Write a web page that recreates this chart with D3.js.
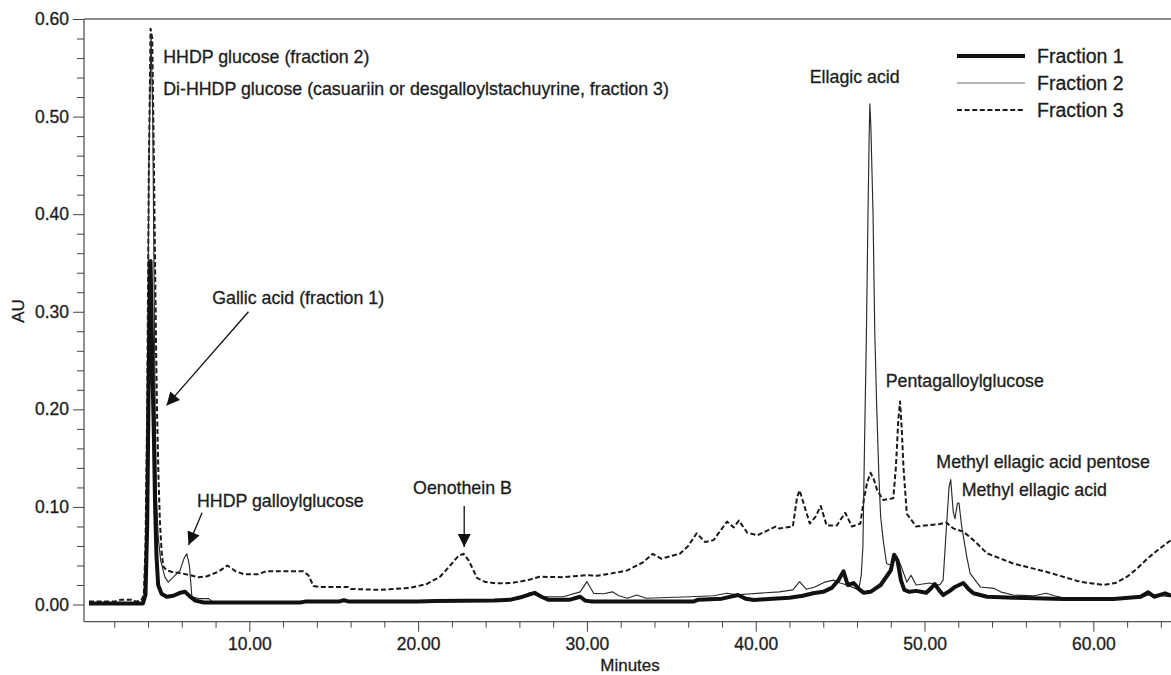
<!DOCTYPE html>
<html>
<head>
<meta charset="utf-8">
<script src="https://cdn.jsdelivr.net/npm/d3@7"></script>
<style>
  html, body { margin: 0; padding: 0; background: #fff; }
  svg { display: block; font-family: "Liberation Sans", Arial, Helvetica, sans-serif; }
  svg text { stroke: #1c1c1c; stroke-width: 0.3px; }
</style>
</head>
<body>
<svg id="chart" width="1171" height="675"></svg>
<script>
// ---------- DATA ----------
const seriesNames = ["Fraction 1", "Fraction 2", "Fraction 3"];

const fraction1Minutes = [0.5,3.7,3.85,3.95,4.05,4.15,4.25,4.35,4.42,4.5,4.6,4.8,5.1,5.5,5.9,6.2,6.5,6.8,7.3,10,13,13.3,15.3,15.6,15.9,20,21,24.5,25.5,26.2,26.9,27.3,27.7,29.0,29.6,29.9,30.3,36.3,36.6,38.0,38.95,39.4,39.9,41.0,42.0,42.8,43.4,44.0,44.5,44.9,45.2,45.45,45.8,46.1,46.4,46.8,47.4,47.8,48.0,48.2,48.4,48.6,48.8,49.1,49.5,50.1,50.4,50.6,50.85,51.1,51.5,51.8,52.3,52.6,52.9,53.7,55.3,58.2,61.2,62.8,63.25,63.6,64.25,64.6];
const fraction1AU = [0.001,0.001,0.01,0.08,0.25,0.352,0.25,0.17,0.10,0.05,0.02,0.011,0.008,0.009,0.012,0.013,0.008,0.004,0.002,0.002,0.002,0.003,0.003,0.0045,0.003,0.003,0.0035,0.004,0.005,0.008,0.012,0.008,0.005,0.005,0.008,0.004,0.003,0.003,0.005,0.006,0.0097,0.006,0.0046,0.006,0.007,0.009,0.0115,0.013,0.017,0.025,0.034,0.02,0.022,0.016,0.012,0.013,0.02,0.03,0.035,0.051,0.045,0.025,0.015,0.013,0.014,0.012,0.017,0.021,0.015,0.0097,0.014,0.018,0.022,0.016,0.0115,0.008,0.007,0.0056,0.0056,0.008,0.0125,0.008,0.0115,0.009];

const fraction2Minutes = [0.5,3.7,3.85,3.95,4.05,4.18,4.28,4.35,4.42,4.5,4.6,4.75,5.0,5.2,5.5,5.9,6.15,6.3,6.45,6.6,7.0,7.6,7.8,13,20,24,26.0,26.6,27.2,28.6,29.6,30.0,30.4,31.0,31.5,31.9,32.4,32.95,33.5,36.1,37.5,38.3,38.9,41.4,42.2,42.6,43.0,43.5,44.1,44.6,45.0,45.4,46.1,46.25,46.35,46.45,46.55,46.65,46.72,46.76,46.82,46.95,47.05,47.17,47.3,47.4,47.55,47.75,48.05,48.35,48.6,48.95,49.2,49.5,50.3,50.9,51.1,51.3,51.45,51.55,51.7,51.8,51.95,52.04,52.2,52.5,52.7,53.3,54.1,54.5,55.25,56.5,57.2,57.7,58.2,60,62.8,63.3,64.6];
const fraction2AU = [0.001,0.001,0.02,0.15,0.45,0.585,0.50,0.35,0.2,0.11,0.07,0.045,0.028,0.023,0.028,0.035,0.048,0.052,0.04,0.008,0.006,0.006,0.003,0.003,0.003,0.004,0.006,0.012,0.008,0.008,0.013,0.0234,0.0115,0.011,0.013,0.009,0.0064,0.0097,0.0064,0.008,0.009,0.0115,0.01,0.013,0.015,0.0234,0.0156,0.018,0.023,0.025,0.022,0.02,0.015,0.03,0.06,0.17,0.27,0.40,0.48,0.513,0.49,0.40,0.28,0.2,0.13,0.09,0.066,0.042,0.04,0.049,0.04,0.023,0.03,0.02,0.022,0.02,0.025,0.08,0.12,0.128,0.095,0.088,0.104,0.104,0.08,0.049,0.032,0.018,0.0166,0.013,0.0097,0.009,0.0115,0.009,0.007,0.006,0.007,0.01,0.008];

const fraction3Minutes = [0.5,2.0,2.4,3.0,3.3,3.6,3.75,3.85,3.95,4.05,4.15,4.25,4.35,4.45,4.53,4.62,4.7,4.8,4.9,5.1,5.5,6.0,6.5,7.0,7.5,8.2,8.7,9.2,9.7,10.5,11.0,13.2,13.5,13.8,14.2,15.85,16.0,17.7,19.5,20.5,21.3,21.9,22.4,22.7,23.0,23.5,24.0,24.65,25.5,26.5,27.2,28.5,30.0,30.6,31.5,32.4,33.3,33.9,34.4,35.5,36.0,36.5,37.0,37.5,38.3,38.7,39.0,39.5,40.1,41.2,41.4,42.2,42.45,42.6,42.9,43.2,43.55,43.85,44.2,44.8,45.3,45.7,46.2,46.4,46.6,46.8,47.0,47.2,47.55,48.15,48.3,48.45,48.55,48.65,48.75,48.95,49.5,50.9,51.3,51.7,52.3,52.9,53.7,55.25,57.2,59.2,60.6,61.3,62.0,62.6,63.2,63.9,64.6];
const fraction3AU = [0.003,0.003,0.005,0.005,0.003,0.004,0.01,0.06,0.2,0.45,0.59,0.58,0.45,0.3,0.2,0.13,0.087,0.055,0.039,0.035,0.033,0.032,0.03,0.028,0.029,0.034,0.04,0.034,0.031,0.031,0.034,0.034,0.03,0.019,0.018,0.018,0.016,0.015,0.017,0.021,0.0285,0.04,0.05,0.052,0.045,0.027,0.023,0.0217,0.022,0.025,0.0285,0.028,0.030,0.0295,0.032,0.035,0.043,0.052,0.047,0.052,0.06,0.073,0.064,0.066,0.085,0.079,0.086,0.0736,0.071,0.08,0.078,0.08,0.11,0.117,0.1,0.083,0.09,0.101,0.081,0.081,0.094,0.08,0.083,0.107,0.125,0.135,0.128,0.117,0.107,0.109,0.14,0.19,0.208,0.18,0.141,0.093,0.08,0.0825,0.084,0.078,0.0746,0.066,0.0525,0.042,0.0336,0.0234,0.020,0.022,0.0285,0.037,0.047,0.057,0.066];

const yMajorTicks = [0.0, 0.1, 0.2, 0.3, 0.4, 0.5, 0.6];
const yTickLabels = ["0.00", "0.10", "0.20", "0.30", "0.40", "0.50", "0.60"];
const xMajorTicks = [10, 20, 30, 40, 50, 60];
const xTickLabels = ["10.00", "20.00", "30.00", "40.00", "50.00", "60.00"];

const annotations = [
  { text: "HHDP glucose (fraction 2)", x: 4.9, y: 0.555 },
  { text: "Di-HHDP glucose (casuariin or desgalloylstachuyrine, fraction 3)", x: 4.9, y: 0.522 },
  { text: "Gallic acid (fraction 1)", x: 7.8, y: 0.308 },
  { text: "HHDP galloylglucose", x: 6.9, y: 0.100 },
  { text: "Oenothein B", x: 19.7, y: 0.113 },
  { text: "Ellagic acid", x: 43.2, y: 0.534 },
  { text: "Pentagalloylglucose", x: 47.7, y: 0.223 },
  { text: "Methyl ellagic acid pentose", x: 50.7, y: 0.140 },
  { text: "Methyl ellagic acid", x: 52.2, y: 0.111 }
];
const arrows = [
  { x1: 9.95, y1: 0.300, x2: 5.1, y2: 0.204 },
  { x1: 7.2, y1: 0.094, x2: 6.4, y2: 0.061 },
  { x1: 22.73, y1: 0.101, x2: 22.73, y2: 0.059 }
];

// ---------- LAYOUT ----------
const svg = d3.select("#chart");
const mLeft = 84, mTop = 19, mBottom = 621.7, mRight = 1171;
const x = d3.scaleLinear().domain([0.207, 64.6]).range([mLeft, mRight]);
const y = d3.scaleLinear().domain([-0.0176, 0.6]).range([mBottom, mTop]);
const ink = "#1c1c1c";

// frame
svg.append("line").attr("x1", mLeft).attr("x2", mRight).attr("y1", mTop).attr("y2", mTop)
  .attr("stroke", "#666").attr("stroke-width", 1.3);
svg.append("line").attr("x1", mLeft).attr("x2", mRight).attr("y1", mBottom).attr("y2", mBottom)
  .attr("stroke", "#555").attr("stroke-width", 1.3);
svg.append("line").attr("x1", mLeft).attr("x2", mLeft).attr("y1", mTop).attr("y2", mBottom)
  .attr("stroke", "#555").attr("stroke-width", 1.3);

// Y axis
const yAxis = d3.axisLeft(y).tickValues(yMajorTicks).tickSize(11).tickPadding(4)
  .tickFormat((d, i) => yTickLabels[i]);
const gy = svg.append("g").attr("transform", `translate(${mLeft},0)`).call(yAxis);
gy.select(".domain").remove();
gy.selectAll("line").attr("stroke", "#444");
gy.selectAll("text").attr("font-size", 17.5).attr("fill", ink)
  .attr("font-family", "Liberation Sans, Arial, sans-serif");
const yMinor = d3.range(0.02, 0.6, 0.02).filter(v => Math.abs(v * 10 - Math.round(v * 10)) > 0.01);
const yAxisMinor = d3.axisLeft(y).tickValues(yMinor).tickSize(7).tickFormat("");
const gym = svg.append("g").attr("transform", `translate(${mLeft},0)`).call(yAxisMinor);
gym.select(".domain").remove();
gym.selectAll("line").attr("stroke", "#444");

// X axis
const xAxis = d3.axisBottom(x).tickValues(xMajorTicks).tickSize(10).tickPadding(6)
  .tickFormat((d, i) => xTickLabels[i]);
const gx = svg.append("g").attr("transform", `translate(0,${mBottom})`).call(xAxis);
gx.select(".domain").remove();
gx.selectAll("line").attr("stroke", "#444");
gx.selectAll("text").attr("font-size", 17.5).attr("fill", ink)
  .attr("font-family", "Liberation Sans, Arial, sans-serif");
const xMinor = d3.range(2, 65, 2).filter(v => v % 10 !== 0);
const xAxisMinor = d3.axisBottom(x).tickValues(xMinor).tickSize(6).tickFormat("");
const gxm = svg.append("g").attr("transform", `translate(0,${mBottom})`).call(xAxisMinor);
gxm.select(".domain").remove();
gxm.selectAll("line").attr("stroke", "#444");

// axis titles
svg.append("text").attr("x", 630).attr("y", 671).attr("text-anchor", "middle")
  .attr("font-size", 17).attr("fill", ink).text("Minutes");
svg.append("text").attr("transform", "translate(24,311) rotate(-90)").attr("text-anchor", "middle")
  .attr("font-size", 17).attr("fill", ink).text("AU");

// ---------- SERIES ----------
svg.append("clipPath").attr("id", "plotclip").append("rect")
  .attr("x", mLeft).attr("y", mTop - 2).attr("width", mRight - mLeft).attr("height", mBottom - mTop);
const line = d3.line().x(d => x(d[0])).y(d => y(d[1]));
const zip = (a, b) => a.map((v, i) => [v, b[i]]);
const plot = svg.append("g").attr("clip-path", "url(#plotclip)");

plot.append("path").datum(zip(fraction3Minutes, fraction3AU)).attr("d", line)
  .attr("fill", "none").attr("stroke", "#1a1a1a").attr("stroke-width", 2)
  .attr("stroke-dasharray", "5,2.6").attr("stroke-linejoin", "round");
plot.append("path").datum(zip(fraction2Minutes, fraction2AU)).attr("d", line)
  .attr("fill", "none").attr("stroke", "#2a2a2a").attr("stroke-width", 1.15)
  .attr("stroke-linejoin", "round");
plot.append("path").datum(zip(fraction1Minutes, fraction1AU)).attr("d", line)
  .attr("fill", "none").attr("stroke", "#111").attr("stroke-width", 4)
  .attr("stroke-linejoin", "round");

// ---------- LEGEND ----------
const legendStyles = [
  { stroke: "#111", width: 4, dash: null },
  { stroke: "#999", width: 1.3, dash: null },
  { stroke: "#1a1a1a", width: 2, dash: "5,2.6" }
];
const lg = svg.append("g");
seriesNames.forEach((name, i) => {
  const cy = 56 + i * 27;
  const s = legendStyles[i];
  const l = lg.append("line").attr("x1", 957).attr("x2", 1025).attr("y1", cy).attr("y2", cy)
    .attr("stroke", s.stroke).attr("stroke-width", s.width);
  if (s.dash) l.attr("stroke-dasharray", s.dash);
  lg.append("text").attr("x", 1037).attr("y", cy).attr("dy", "0.36em")
    .attr("font-size", 19.5).attr("fill", ink).text(name);
});

// ---------- ANNOTATIONS ----------
const defs = svg.append("defs");
defs.append("marker").attr("id", "arrowhead").attr("viewBox", "0 0 10 10")
  .attr("refX", 10).attr("refY", 5).attr("markerWidth", 18).attr("markerHeight", 13)
  .attr("markerUnits", "userSpaceOnUse").attr("orient", "auto")
  .append("path").attr("d", "M0,0 L10,5 L0,10 Z").attr("fill", "#111");

annotations.forEach(a => {
  svg.append("text").attr("x", x(a.x)).attr("y", y(a.y))
    .attr("font-size", 17.8).attr("fill", ink).text(a.text);
});
arrows.forEach(a => {
  svg.append("line").attr("x1", x(a.x1)).attr("y1", y(a.y1)).attr("x2", x(a.x2)).attr("y2", y(a.y2))
    .attr("stroke", "#111").attr("stroke-width", 1.3).attr("marker-end", "url(#arrowhead)");
});
</script>
</body>
</html>
